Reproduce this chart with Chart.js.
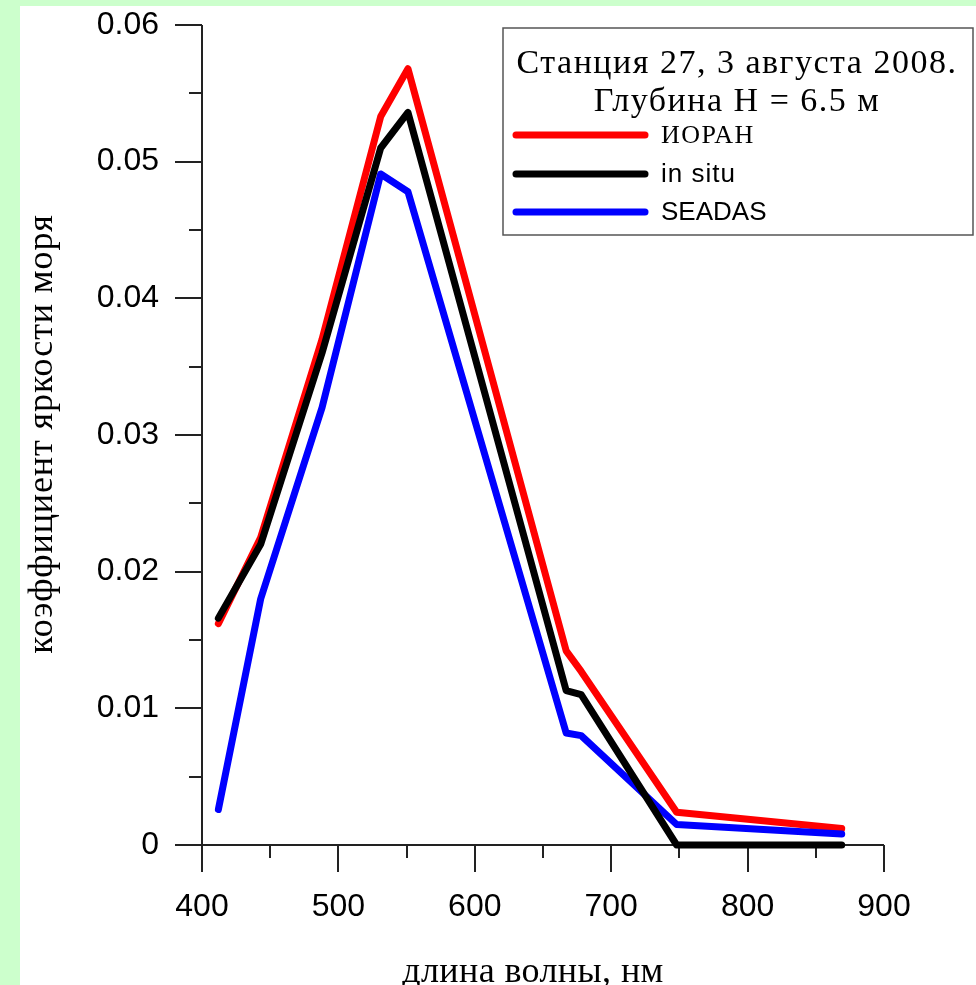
<!DOCTYPE html>
<html>
<head>
<meta charset="utf-8">
<script src="https://cdn.jsdelivr.net/npm/chart.js@4.4.1/dist/chart.umd.min.js"></script>
<style>
html,body{margin:0;padding:0;background:#ccffcc;}
#wrap{width:976px;height:985px;}
</style>
</head>
<body>
<div id="wrap"><canvas id="c" width="976" height="985"></canvas></div>
<script>
// ---- data ----
const wavelengths = [412, 443, 488, 531, 551, 667, 678, 748, 869];
const ioranValues = [0.0162, 0.0225, 0.0370, 0.0533, 0.0568, 0.0142, 0.0127, 0.0024, 0.0012];
const inSituValues = [0.0166, 0.0220, 0.0360, 0.0510, 0.0536, 0.0113, 0.0110, 0.0000, 0.0000];
const seadasValues = [0.0026, 0.0180, 0.0320, 0.0491, 0.0478, 0.0082, 0.0080, 0.0015, 0.0008];
const seriesNames = ['ИОРАН', 'in situ', 'SEADAS'];
const seriesColors = ['#ff0000', '#000000', '#0000ff'];
const xTickValues = [400, 500, 600, 700, 800, 900];
const yTickValues = [0, 0.01, 0.02, 0.03, 0.04, 0.05, 0.06];
const legendTitle = ['Станция 27, 3 августа 2008.', 'Глубина H = 6.5 м'];
const xTitle = 'длина волны, нм';
const yTitle = 'коэффициент яркости моря';

const serif = '"Liberation Serif", "Times New Roman", serif';
const sans = '"Liberation Sans", Arial, sans-serif';

function pts(vals){ return wavelengths.map((w,i)=>({x:w, y:vals[i]})); }
const allValues = [ioranValues, inSituValues, seadasValues];
const drawOrder = [2, 0, 1];

const decor = {
  id: 'decor',
  beforeDraw(chart){
    const ctx = chart.ctx;
    ctx.save();
    ctx.fillStyle = '#ccffcc';
    ctx.fillRect(0,0,chart.width,chart.height);
    ctx.fillStyle = '#ffffff';
    ctx.fillRect(20,6,chart.width-20,chart.height-6);
    ctx.restore();
  },
  beforeDatasetsDraw(chart){
    const ctx = chart.ctx;
    const xs = chart.scales.x, ys = chart.scales.y;
    const x0 = xs.getPixelForValue(400), x1 = xs.getPixelForValue(900);
    const y0 = ys.getPixelForValue(0), y1 = ys.getPixelForValue(0.06);
    ctx.save();
    ctx.strokeStyle = '#222';
    ctx.lineWidth = 2;
    ctx.beginPath();
    ctx.moveTo(x0, y1); ctx.lineTo(x0, y0);
    ctx.moveTo(x0-27, y0); ctx.lineTo(x1, y0);
    for (let v = 0; v <= 0.0600001; v += 0.005) {
      const p = Math.round(ys.getPixelForValue(v));
      const major = Math.abs(v/0.01 - Math.round(v/0.01)) < 1e-6;
      ctx.moveTo(x0 - (major?27:13), p); ctx.lineTo(x0, p);
    }
    for (let v = 400; v <= 900; v += 50) {
      const p = Math.round(xs.getPixelForValue(v));
      const major = v % 100 === 0;
      ctx.moveTo(p, y0); ctx.lineTo(p, y0 + (major?27:13));
    }
    ctx.stroke();

    ctx.fillStyle = '#000';
    ctx.font = '36px ' + serif;
    ctx.textAlign = 'center';
    ctx.textBaseline = 'alphabetic';
    ctx.letterSpacing = '0.4px';
    ctx.fillText(xTitle, 533, 982);
    ctx.translate(52, 434);
    ctx.rotate(-Math.PI/2);
    ctx.letterSpacing = '0.9px';
    ctx.fillText(yTitle, 0, 0);
    ctx.restore();
  },
  afterDraw(chart){
    const ctx = chart.ctx;
    ctx.save();
    ctx.fillStyle = '#fff';
    ctx.fillRect(503, 28, 470, 207);
    ctx.strokeStyle = '#555';
    ctx.lineWidth = 1.5;
    ctx.strokeRect(503, 28, 470, 207);
    ctx.fillStyle = '#000';
    ctx.textAlign = 'center';
    ctx.textBaseline = 'alphabetic';
    ctx.font = '34px ' + serif;
    ctx.letterSpacing = '1.5px';
    ctx.fillText(legendTitle[0], 737, 73);
    ctx.fillText(legendTitle[1], 737, 111);
    const ys = [135, 174, 212];
    chart.data.datasets.forEach((ds, i) => {
      ctx.strokeStyle = ds.borderColor;
      ctx.lineWidth = 7;
      ctx.lineCap = 'round';
      ctx.beginPath();
      ctx.moveTo(516, ys[i]); ctx.lineTo(645, ys[i]);
      ctx.stroke();
      ctx.textAlign = 'left';
      ctx.textBaseline = 'middle';
      ctx.font = (i === 0 ? '26px ' + serif : '26px ' + sans);
      ctx.letterSpacing = (i === 0 ? '1.5px' : (i === 1 ? '1px' : '0px'));
      ctx.fillText(ds.label, 661, ys[i] + 1);
    });
    ctx.restore();
  }
};

new Chart(document.getElementById('c'), {
  type: 'line',
  data: {
    datasets: seriesNames.map((n, i) => ({
      label: n,
      data: pts(allValues[i]),
      borderColor: seriesColors[i],
      backgroundColor: seriesColors[i],
      borderWidth: 7,
      pointRadius: 0,
      tension: 0,
      borderCapStyle: 'round',
      borderJoinStyle: 'round',
      clip: false,
      order: drawOrder[i]
    }))
  },
  options: {
    responsive: false,
    animation: false,
    devicePixelRatio: 1,
    layout: { padding: { top: 25, right: 92, left: 0, bottom: 0 } },
    plugins: { legend: { display: false }, tooltip: { enabled: false }, title: { display: false } },
    scales: {
      x: {
        type: 'linear', min: 400, max: 900,
        afterBuildTicks: s => { s.ticks = xTickValues.map(v => ({value: v})); },
        afterFit: s => { s.height = 140; s.paddingLeft = 0; s.paddingRight = 0; },
        grid: { display: false, drawTicks: false },
        border: { display: false },
        ticks: { padding: 43, color: '#000', font: { family: sans, size: 32 }, maxRotation: 0, autoSkip: false }
      },
      y: {
        type: 'linear', min: 0, max: 0.06,
        afterBuildTicks: s => { s.ticks = yTickValues.map(v => ({value: v})); },
        afterFit: s => { s.width = 202; s.paddingTop = 0; s.paddingBottom = 0; },
        grid: { display: false, drawTicks: false },
        border: { display: false },
        ticks: { padding: 43, color: '#000', font: { family: sans, size: 32 }, autoSkip: false,
          callback: v => v === 0 ? '0' : v.toFixed(2) }
      }
    }
  },
  plugins: [decor]
});
</script>
</body>
</html>
